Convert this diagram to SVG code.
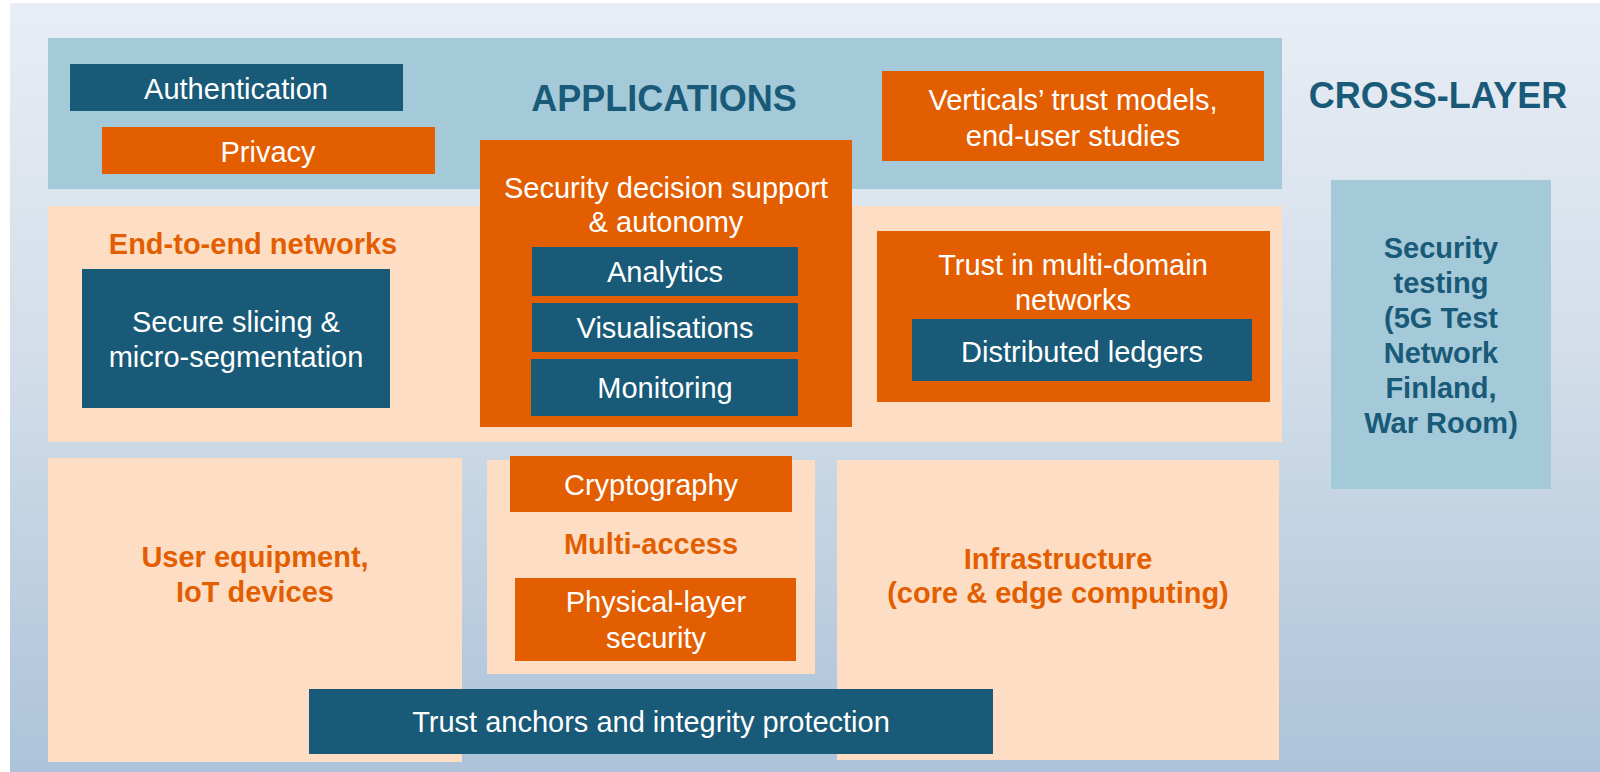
<svg xmlns="http://www.w3.org/2000/svg" width="1600" height="772" viewBox="0 0 1600 772">
  <defs>
    <linearGradient id="bg" x1="0" y1="0" x2="0" y2="1">
      <stop offset="0" stop-color="#E9EDF5"/>
      <stop offset="0.5" stop-color="#D0DCE8"/>
      <stop offset="1" stop-color="#ACC3D9"/>
    </linearGradient>
  </defs>
  <style>
    .teal { fill: #185A77; }
    .orange { fill: #E35E00; }
    .peach { fill: #FDDEC4; }
    .lblue { fill: #A4C9D8; }
    text { font-family: "Liberation Sans", Arial, sans-serif; font-size: 29px; text-anchor: middle; }
    .w { fill: #FFFFFF; }
    .ob { fill: #E35E00; font-weight: bold; }
    .tb { fill: #185A77; font-weight: bold; }
    .big { font-size: 36px; }
  </style>
  <rect x="10" y="3" width="1590" height="769" fill="url(#bg)"/>

  <g id="applications">
    <rect class="lblue" x="48" y="38" width="1234" height="151"/>
    <text class="tb big" x="664" y="111">APPLICATIONS</text>
  </g>
  <g id="end-to-end-networks">
    <rect class="peach" x="48" y="206" width="1234" height="236"/>
    <text class="ob" x="253" y="254">End-to-end networks</text>
  </g>
  <g id="user-equipment">
    <rect class="peach" x="48" y="458" width="414" height="304"/>
    <text class="ob" x="255" y="567">User equipment,</text>
    <text class="ob" x="255" y="602">IoT devices</text>
  </g>
  <g id="multi-access">
    <rect class="peach" x="487" y="460" width="328" height="214"/>
    <text class="ob" x="651" y="554">Multi-access</text>
  </g>
  <g id="infrastructure">
    <rect class="peach" x="837" y="460" width="442" height="300"/>
    <text class="ob" x="1058" y="569">Infrastructure</text>
    <text class="ob" x="1058" y="603">(core &amp; edge computing)</text>
  </g>
  <g id="cross-layer">
    <text class="tb big" x="1438" y="108">CROSS-LAYER</text>
  </g>
  <g id="security-testing">
    <rect class="lblue" x="1331" y="180" width="220" height="309"/>
    <text class="tb" x="1441" y="258">Security</text>
    <text class="tb" x="1441" y="293">testing</text>
    <text class="tb" x="1441" y="328">(5G Test</text>
    <text class="tb" x="1441" y="363">Network</text>
    <text class="tb" x="1441" y="398">Finland,</text>
    <text class="tb" x="1441" y="433">War Room)</text>
  </g>
  <g id="authentication">
    <rect class="teal" x="70" y="64" width="333" height="47"/>
    <text class="w" x="236" y="99">Authentication</text>
  </g>
  <g id="privacy">
    <rect class="orange" x="102" y="127" width="333" height="47"/>
    <text class="w" x="268" y="162">Privacy</text>
  </g>
  <g id="verticals">
    <rect class="orange" x="882" y="71" width="382" height="90"/>
    <text class="w" x="1073" y="110">Verticals’ trust models,</text>
    <text class="w" x="1073" y="146">end-user studies</text>
  </g>
  <g id="security-decision">
    <rect class="orange" x="480" y="140" width="372" height="287"/>
    <text class="w" x="666" y="198">Security decision support</text>
    <text class="w" x="666" y="232">&amp; autonomy</text>
  </g>
  <g id="analytics">
    <rect class="teal" x="532" y="247" width="266" height="49"/>
    <text class="w" x="665" y="282">Analytics</text>
  </g>
  <g id="visualisations">
    <rect class="teal" x="532" y="303" width="266" height="49"/>
    <text class="w" x="665" y="338">Visualisations</text>
  </g>
  <g id="monitoring">
    <rect class="teal" x="531" y="359" width="267" height="57"/>
    <text class="w" x="665" y="398">Monitoring</text>
  </g>
  <g id="secure-slicing">
    <rect class="teal" x="82" y="269" width="308" height="139"/>
    <text class="w" x="236" y="332">Secure slicing &amp;</text>
    <text class="w" x="236" y="367">micro-segmentation</text>
  </g>
  <g id="trust-multi-domain">
    <rect class="orange" x="877" y="231" width="393" height="171"/>
    <text class="w" x="1073" y="275">Trust in multi-domain</text>
    <text class="w" x="1073" y="310">networks</text>
  </g>
  <g id="distributed-ledgers">
    <rect class="teal" x="912" y="319" width="340" height="62"/>
    <text class="w" x="1082" y="362">Distributed ledgers</text>
  </g>
  <g id="cryptography">
    <rect class="orange" x="510" y="456" width="282" height="56"/>
    <text class="w" x="651" y="495">Cryptography</text>
  </g>
  <g id="physical-layer">
    <rect class="orange" x="515" y="578" width="281" height="83"/>
    <text class="w" x="656" y="612">Physical-layer</text>
    <text class="w" x="656" y="648">security</text>
  </g>
  <g id="trust-anchors">
    <rect class="teal" x="309" y="689" width="684" height="65"/>
    <text class="w" x="651" y="732">Trust anchors and integrity protection</text>
  </g>
  <g id="connectors"></g>
</svg>
